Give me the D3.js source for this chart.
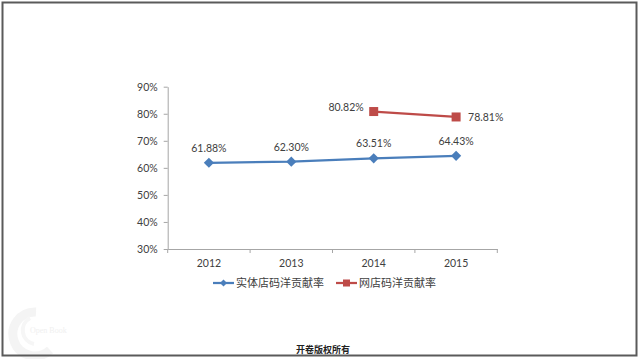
<!DOCTYPE html>
<html><head><meta charset="utf-8">
<script src="https://cdn.jsdelivr.net/npm/d3@7"></script>
<style>
html,body{margin:0;padding:0;background:#fff;}
svg{display:block;}
</style></head>
<body><svg id="c" width="640" height="359"></svg>
<script>
const years = ["2012","2013","2014","2015"];
const offlineValues = [61.88, 62.30, 63.51, 64.43];
const onlineValues = [null, null, 80.82, 78.81];
const yTicks = [30,40,50,60,70,80,90];
const seriesNames = ["实体店码洋贡献率","网店码洋贡献率"];
const footerText = "开卷版权所有";

const svg = d3.select("#c");
const font = "Lato, 'Noto Sans CJK SC', sans-serif";

svg.append("rect").attr("width",640).attr("height",359).attr("fill","#fff");

// faint watermark (inside frame)
const wm = svg.append("g");
wm.append("path").attr("d","M36,312 A22,22 0 1,0 50,350").attr("fill","none").attr("stroke","#f4f4f4").attr("stroke-width",9);
wm.append("path").attr("d","M30,318 A14,14 0 0,0 34,344").attr("fill","none").attr("stroke","#f6f6f6").attr("stroke-width",4);
wm.append("text").attr("x",30).attr("y",333).attr("font-size",8).attr("fill","#f0f0f0").attr("font-family","serif").text("Open Book");

// frame (drawn on top)
svg.append("rect").attr("x",2.5).attr("y",2.5).attr("width",634).attr("height",353)
  .attr("fill","none").attr("stroke","#5a5a5a").attr("stroke-width",2);

const x = d3.scaleBand().domain(years).range([167.7, 497.3]);
const y = d3.scaleLinear().domain([30,90]).range([249, 86.7]);

// y axis
const ya = svg.append("g").attr("transform","translate(167.7,0)")
  .call(d3.axisLeft(y).tickValues(yTicks).tickFormat(d=>d+"%").tickSize(4).tickSizeOuter(0));
ya.select(".domain").attr("stroke","#a6a6a6");
ya.selectAll(".tick line").attr("stroke","#a6a6a6");
ya.selectAll(".tick text").attr("font-family",font).attr("font-size",10.5).attr("fill","#404040").attr("x",-10);

// x axis
const xa = svg.append("g").attr("transform","translate(0,249)")
  .call(d3.axisBottom(x).tickSize(0).tickSizeOuter(0));
xa.select(".domain").attr("stroke","#a6a6a6");
xa.selectAll(".tick line").remove();
xa.selectAll(".tick text").attr("font-family",font).attr("font-size",10.5).attr("fill","#404040").attr("dy","0").attr("y",18);
svg.append("g").selectAll("line").data(years.concat(["end"])).join("line")
  .attr("x1",(d,i)=> i<years.length ? x(d) : x.range()[1])
  .attr("x2",(d,i)=> i<years.length ? x(d) : x.range()[1])
  .attr("y1",249).attr("y2",253).attr("stroke","#a6a6a6");

const cx = d => x(d) + x.bandwidth()/2;
const blue = "#4A7EBB", red = "#BE4B48";

// offline series
const offData = years.map((d,i)=>({year:d, v:offlineValues[i]}));
const line = d3.line().defined(d=>d.v!=null).x(d=>cx(d.year)).y(d=>y(d.v));
svg.append("path").datum(offData).attr("d",line).attr("fill","none").attr("stroke",blue).attr("stroke-width",2.25);
svg.append("g").selectAll("rect").data(offData).join("rect")
  .attr("x",-3.6).attr("y",-3.6).attr("width",7.2).attr("height",7.2)
  .attr("transform",d=>`translate(${cx(d.year)},${y(d.v)}) rotate(45)`).attr("fill",blue);
svg.append("g").selectAll("text").data(offData).join("text")
  .attr("x",d=>cx(d.year)).attr("y",d=>y(d.v)-11).attr("text-anchor","middle")
  .attr("font-family",font).attr("font-size",10.5).attr("fill","#404040").text(d=>d.v.toFixed(2)+"%");

// online series
const onData = years.map((d,i)=>({year:d, v:onlineValues[i]})).filter(d=>d.v!=null);
svg.append("path").datum(onData).attr("d",line).attr("fill","none").attr("stroke",red).attr("stroke-width",2.25);
svg.append("g").selectAll("rect").data(onData).join("rect")
  .attr("x",d=>cx(d.year)-4.5).attr("y",d=>y(d.v)-4.5).attr("width",9).attr("height",9).attr("fill",red);
svg.append("g").selectAll("text").data(onData).join("text")
  .attr("x",(d,i)=> i===0 ? cx(d.year)-10 : cx(d.year)+12)
  .attr("y",(d,i)=> i===0 ? y(d.v)-1 : y(d.v)+4)
  .attr("text-anchor",(d,i)=> i===0 ? "end" : "start")
  .attr("font-family",font).attr("font-size",10.5).attr("fill","#404040").text(d=>d.v.toFixed(2)+"%");

// legend
const lg = svg.append("g");
const legendItems = [{name:seriesNames[0],color:blue,sym:"diamond",x0:213},{name:seriesNames[1],color:red,sym:"square",x0:336}];
legendItems.forEach(it=>{
  lg.append("line").attr("x1",it.x0).attr("x2",it.x0+21).attr("y1",283).attr("y2",283).attr("stroke",it.color).attr("stroke-width",2.25);
  if(it.sym==="diamond"){
    lg.append("rect").attr("x",-2.5).attr("y",-2.5).attr("width",5).attr("height",5)
      .attr("transform",`translate(${it.x0+10.5},283) rotate(45)`).attr("fill",it.color);
  } else {
    lg.append("rect").attr("x",it.x0+7).attr("y",279.5).attr("width",7).attr("height",7).attr("fill",it.color);
  }
  lg.append("text").attr("x",it.x0+23).attr("y",287).attr("font-family","'Noto Sans CJK SC', sans-serif")
    .attr("font-size",11).attr("fill","#404040").text(it.name);
});

// footer
svg.append("text").attr("x",323).attr("y",353).attr("text-anchor","middle")
  .attr("font-family","'Noto Sans CJK SC', sans-serif").attr("font-weight","bold").attr("font-size",9).attr("fill","#222").text(footerText);
</script></body></html>
